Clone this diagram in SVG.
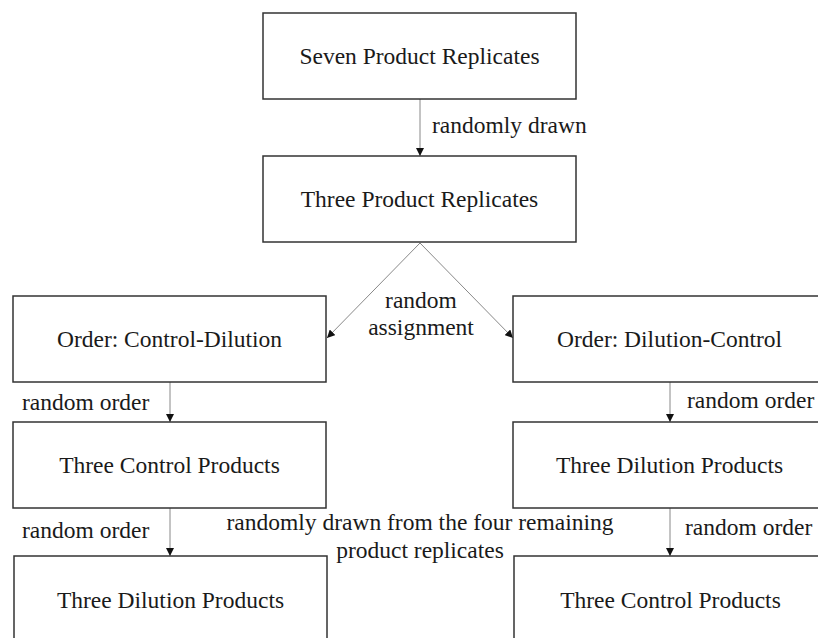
<svg xmlns="http://www.w3.org/2000/svg" width="818" height="638" viewBox="0 0 818 638">
<defs>
<style>
.box{fill:#fff;stroke:#333;stroke-width:1.5}
text{font-family:'Liberation Serif','Times New Roman',Times,serif;font-size:23.5px;fill:#1a1a1a}
.m{text-anchor:middle}
.c{stroke:#888;stroke-width:1;fill:none;marker-end:url(#ah)}
</style>
<marker id="ah" viewBox="0 0 10 10" refX="10" refY="5" markerWidth="8" markerHeight="8" markerUnits="userSpaceOnUse" orient="auto">
<path d="M0,0 L10,5 L0,10 z" fill="#111"/>
</marker>
</defs>
<rect width="818" height="638" fill="#fff"/>
<g id="connectors">
<line class="c" x1="420" y1="99" x2="420" y2="156"/>
<line class="c" x1="420" y1="243" x2="327" y2="338"/>
<line class="c" x1="420" y1="243" x2="513" y2="338"/>
<line class="c" x1="170" y1="382" x2="170" y2="422"/>
<line class="c" x1="170" y1="508" x2="170" y2="556"/>
<line class="c" x1="670" y1="382" x2="670" y2="422"/>
<line class="c" x1="670" y1="508" x2="670" y2="556"/>
</g>
<g id="labels" font-family="Liberation Serif, serif">
<text x="432" y="133">randomly drawn</text>
<text class="m" x="421" y="308">random</text>
<text class="m" x="421" y="335">assignment</text>
<text x="22" y="410">random order</text>
<text x="22" y="538">random order</text>
<text x="687" y="408">random order</text>
<text x="685" y="535">random order</text>
<text class="m" x="420" y="530">randomly drawn from the four remaining</text>
<text class="m" x="420" y="558">product replicates</text>
</g>
<g id="n1"><rect class="box" x="263" y="13" width="313" height="86"/><text class="m" x="419.5" y="64">Seven Product Replicates</text></g>
<g id="n2"><rect class="box" x="263" y="156" width="313" height="86"/><text class="m" x="419.5" y="207">Three Product Replicates</text></g>
<g id="n3"><rect class="box" x="13" y="296" width="313" height="86"/><text class="m" x="169.5" y="347">Order: Control-Dilution</text></g>
<g id="n4"><rect class="box" x="513" y="296" width="313" height="86"/><text class="m" x="669.5" y="347">Order: Dilution-Control</text></g>
<g id="n5"><rect class="box" x="13" y="422" width="313" height="86"/><text class="m" x="169.5" y="473">Three Control Products</text></g>
<g id="n6"><rect class="box" x="513" y="422" width="313" height="86"/><text class="m" x="669.5" y="473">Three Dilution Products</text></g>
<g id="n7"><rect class="box" x="14" y="556" width="313" height="86"/><text class="m" x="170.5" y="608">Three Dilution Products</text></g>
<g id="n8"><rect class="box" x="514" y="556" width="313" height="86"/><text class="m" x="670.5" y="608">Three Control Products</text></g>
</svg>
